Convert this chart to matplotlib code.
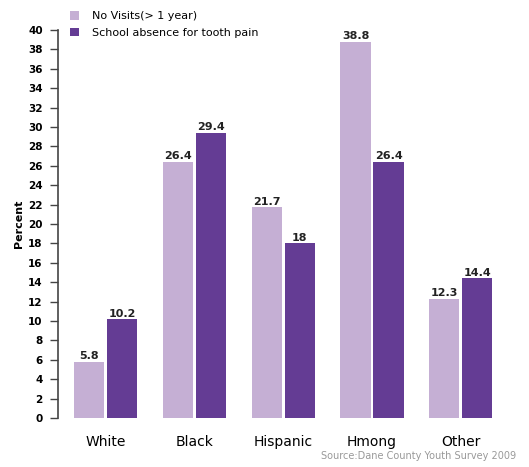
import matplotlib.pyplot as plt
import numpy as np

# data
groups = ['White', 'Black', 'Hispanic', 'Hmong', 'Other']
no_visits = [5.8, 26.4, 21.7, 38.8, 12.3]
absence = [10.2, 29.4, 18, 26.4, 14.4]
series_names = ['No Visits(> 1 year)', 'School absence for tooth pain']

light = '#C5AFD4'
dark = '#643C94'

fig = plt.figure(figsize=(5.29, 4.67), dpi=100)
ax = fig.add_axes([0.1096, 0.105, 0.852, 0.831])

x = np.arange(len(groups))
w = 0.34
off = 0.186
b1 = ax.bar(x - off, no_visits, w, color=light, label=series_names[0])
b2 = ax.bar(x + off, absence, w, color=dark, label=series_names[1])

# value labels
for bars, vals in ((b1, no_visits), (b2, absence)):
    for r, v in zip(bars, vals):
        ax.text(r.get_x() + r.get_width() / 2, v + 0.05, f'{v:g}',
                ha='center', va='bottom', fontsize=8, fontweight='bold',
                color='#222222')

ax.set_xlim(-0.54, 4.54)
ax.set_ylim(0, 40)
ax.set_yticks(range(0, 41, 2))
ax.set_xticks(x)
ax.set_xticklabels(groups, fontsize=10)
for lab in ax.get_yticklabels():
    lab.set_fontweight('bold')
    lab.set_fontsize(7.5)

ax.spines['top'].set_visible(False)
ax.spines['right'].set_visible(False)
ax.spines['bottom'].set_visible(False)
ax.spines['left'].set_color('#444444')
ax.spines['left'].set_linewidth(1.2)
ax.tick_params(axis='y', length=6, width=1.0, color='#444444', pad=5)
ax.tick_params(axis='x', length=0, pad=12)

ax.set_ylabel('Percent', fontsize=8, fontweight='bold', labelpad=3)

ax.legend(loc='upper left', bbox_to_anchor=(0.017, 1.06), frameon=False,
          fontsize=8, handlelength=0.8, handleheight=0.8,
          handletextpad=1.2, labelspacing=0.6, borderaxespad=0)

fig.text(0.975, 0.012, 'Source:Dane County Youth Survey 2009', ha='right',
         va='bottom', fontsize=7, color='#999999')

plt.savefig('out.png', dpi=100)
